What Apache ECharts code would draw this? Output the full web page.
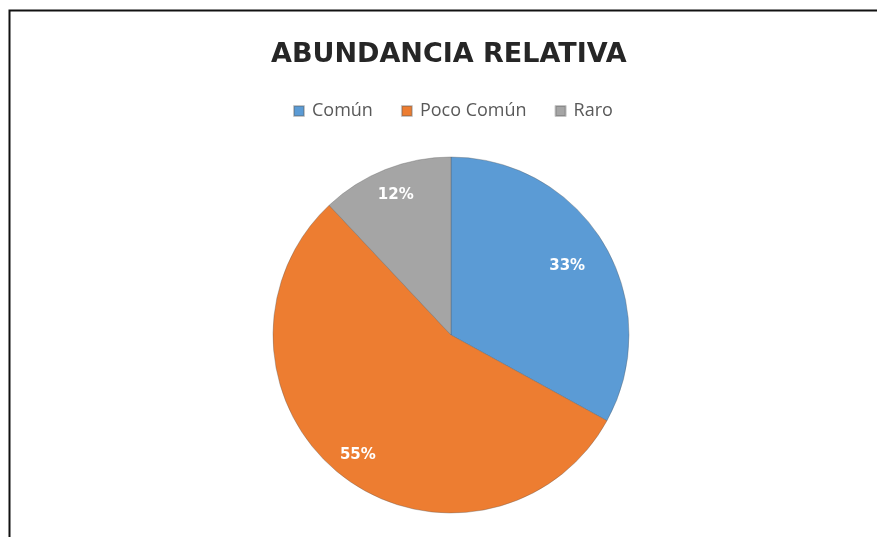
<!DOCTYPE html>
<html>
<head>
<meta charset="utf-8">
<script src="https://cdn.jsdelivr.net/npm/echarts@6/dist/echarts.min.js"></script>
<style>
  html, body { margin: 0; padding: 0; background: #ffffff; }
  #chart { width: 877px; height: 537px; }
</style>
</head>
<body>
<div id="chart"></div>
<script>
// Abundancia relativa de especies por categoría
const categories = ['Común', 'Poco Común', 'Raro'];
const shares = [33, 55, 12];
const sliceColors = ['#5B9BD5', '#ED7D31', '#A5A5A5'];

const pieData = categories.map((name, i) => ({
  name: name,
  value: shares[i],
  itemStyle: { color: sliceColors[i] }
}));

const chart = echarts.init(document.getElementById('chart'), null, { renderer: 'canvas' });

const center = [451, 335];
// radial distance of each percentage label from the pie centre
const labelRadius = [135, 152, 150];

chart.setOption({
  animation: false,
  backgroundColor: '#ffffff',
  title: {
    text: 'ABUNDANCIA RELATIVA',
    left: 266,
    top: 36,
    textStyle: {
      fontFamily: 'DejaVu Sans',
      fontWeight: 'bold',
      fontSize: 27,
      color: '#262626'
    }
  },
  legend: {
    data: categories,
    left: 288,
    top: 97,
    itemWidth: 10,
    itemHeight: 10,
    itemGap: 28,
    icon: 'rect',
    textStyle: {
      fontFamily: 'Open Sans',
      fontSize: 18,
      color: '#595959',
      padding: [0, 0, 0, 3]
    }
  },
  graphic: [{
    type: 'rect',
    left: 7,
    top: 8,
    shape: { width: 900, height: 600 },
    style: { fill: 'none', stroke: '#111111', lineWidth: 2 },
    silent: true
  }],
  series: [
    {
      type: 'pie',
      center: center,
      radius: [0, 178],
      startAngle: 90,
      clockwise: true,
      data: pieData,
      label: { show: false },
      labelLine: { show: false },
      itemStyle: { borderColor: 'rgba(90,90,90,0.35)', borderWidth: 1 },
      emphasis: { disabled: true }
    },
    {
      // transparent ring that only carries the percentage labels
      type: 'pie',
      center: center,
      radius: [114, 178],
      startAngle: 90,
      clockwise: true,
      silent: true,
      data: categories.map((name, i) => ({ name: name, value: shares[i] })),
      itemStyle: { color: 'rgba(0,0,0,0)', borderWidth: 0 },
      label: {
        show: true,
        position: 'inside',
        formatter: '{c}%',
        fontFamily: 'DejaVu Sans',
        fontWeight: 'bold',
        fontSize: 15,
        color: '#ffffff'
      },
      labelLayout: function (params) {
        const r = params.labelRect;
        const cx = r.x + r.width / 2 - center[0];
        const cy = r.y + r.height / 2 - center[1];
        const d = Math.sqrt(cx * cx + cy * cy) || 1;
        const k = labelRadius[params.dataIndex] / d;
        return {
          x: center[0] + cx * k,
          y: center[1] + cy * k,
          align: 'center',
          verticalAlign: 'middle'
        };
      },
      labelLine: { show: false },
      emphasis: { disabled: true }
    }
  ]
});
</script>
</body>
</html>
